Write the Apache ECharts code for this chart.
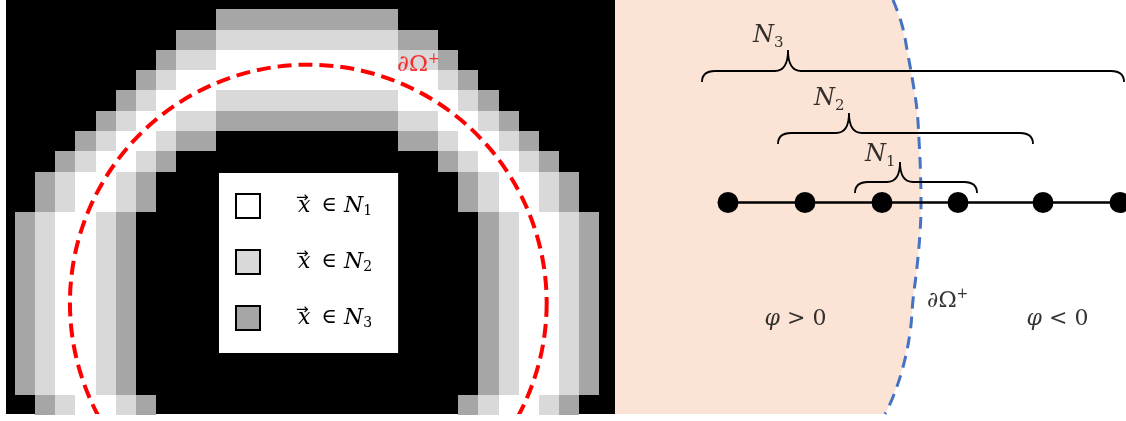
<!DOCTYPE html>
<html><head><meta charset="utf-8">
<script src="https://cdn.jsdelivr.net/npm/echarts@6/dist/echarts.min.js"></script>
<style>html,body{margin:0;padding:0;background:#fff}#c{width:1126px;height:421px}</style>
</head><body><div id="c"></div>
<script>
// ---------- Left panel: pixel classes per row (columns -1 .. 29) ----------
// '.' = outside, '1' = N1 (white), '2' = N2 (light gray), '3' = N3 (dark gray)
const firstCol = -1;
const pixelRows = [
  "...........333333333...........",
  ".........3322222222233.........",
  "........322111111111223........",
  ".......3211111111111112 3.......",
  "......32111222222222111 23......",
  ".....3211223333333332211 23.....",
  "....3211233.........3321123....",
  "...32112 3.............32112 3...",
  "..3211 23...............3211 23..",
  "..3211 23...............3211 23..",
  ".3211 23.................3211 23.",
  ".3211 23.................3211 23.",
  ".3211 23.................3211 23.",
  ".3211 23.................3211 23.",
  ".3211 23.................3211 23.",
  ".3211 23.................3211 23.",
  ".3211 23.................3211 23.",
  ".3211 23.................3211 23.",
  ".3211 23.................3211 23.",
  "..3211 23...............3211 23.."
].map(s => s.replace(/ /g, ''));
const classNames = ['N1', 'N2', 'N3'];
const classColors = ['#ffffff', '#d9d9d9', '#a6a6a6'];
// boundary circle: centre x, centre y, radius (cell units)
const boundaryCircle = [14.556, 14.468, 11.83];
const boundaryLabel = ['\u2202\u03A9', '+'];
const boundaryLabelPos = [18.96, 2.75];

// ---------- Right panel (diagram units) ----------
const nodeX = [728, 805, 882, 958, 1043, 1120];
const nodeY = 202.5;
const braceLeft  = [855, 778, 702];
const braceTip   = [900, 849, 788];
const braceRight = [977, 1033, 1124];
const braceTipY  = [162, 113, 50];
const braceEndY  = [193, 144, 82];
const braceBarY  = [182, 133, 71];
const braceNames = ['1', '2', '3'];
const braceLabelX = [865, 814, 753];
const braceLabelY = [155, 99, 36];
const interfaceX = [893, 902, 908, 913, 917, 919, 920.5, 921, 920, 917, 913, 910, 903, 893, 885];
const interfaceY = [0, 25, 55, 83, 110, 140, 173, 205, 233, 267, 300, 333, 367, 397, 414];
const regionLabels = ['{p|\u03C6} > 0', '\u2202\u03A9{sup|+}', '{p|\u03C6} < 0'];
const regionLabelX = [795.5, 927, 1057.5];
const regionLabelY = [319.5, 301, 319.5];
const regionAlign = ['center', 'left', 'center'];

// ---------- build ----------
const FONT = "'DejaVu Serif', serif";
function classCells(cls) {
  const out = [];
  pixelRows.forEach((row, r) => {
    for (let i = 0; i < row.length; i++) if (row[i] === cls) out.push([firstCol + i, r]);
  });
  return out;
}
function renderCell(params, api) {
  const p0 = api.coord([api.value(0), api.value(1)]);
  const p1 = api.coord([api.value(0) + 1, api.value(1) + 1]);
  const x0 = Math.round(p0[0]), y0 = Math.round(p0[1]);
  return { type: 'rect', shape: { x: x0, y: y0, width: Math.round(p1[0]) - x0, height: Math.round(p1[1]) - y0 },
           style: { fill: api.visual('color') } };
}
const cellSeries = classNames.map((n, k) => ({
  name: n, type: 'custom', xAxisIndex: 0, yAxisIndex: 0, renderItem: renderCell,
  itemStyle: { color: classColors[k] }, data: classCells(String(k + 1)), z: 1, silent: true
}));

// small vector arrows above the legend "x"
const legendRowCenters = [205.5, 261.5, 317.5];
const arrowGraphics = legendRowCenters.map(cy => ({
  type: 'text', left: 296, top: cy - 14.5, z: 100, silent: true,
  style: { text: '\u2192', fontFamily: "'DejaVu Sans'", fontSize: 15, fill: '#000' }
}));

const chart = echarts.init(document.getElementById('c'), null, { renderer: 'canvas' });
chart.setOption({
  animation: false,
  backgroundColor: '#fff',
  grid: [
    { left: 6, top: 0, width: 609, height: 414, show: true, backgroundColor: '#000', borderWidth: 0 },
    { left: 615, top: 0, width: 511, height: 421, show: false }
  ],
  xAxis: [
    { type: 'value', gridIndex: 0, min: -0.4467, max: 29.777, show: false },
    { type: 'value', gridIndex: 1, min: 615, max: 1126, show: false }
  ],
  yAxis: [
    { type: 'value', gridIndex: 0, min: -0.458, max: 19.936, inverse: true, show: false },
    { type: 'value', gridIndex: 1, min: 0, max: 421, inverse: true, show: false }
  ],
  graphic: arrowGraphics,
  legend: {
    data: classNames, orient: 'vertical', left: 219, top: 173,
    backgroundColor: '#fff', padding: [20, 26, 22, 16],
    itemWidth: 24, itemHeight: 24, itemGap: 30, icon: 'rect', selectedMode: false,
    itemStyle: { borderColor: '#000', borderWidth: 2 },
    formatter: name => '{x|x}{o|\u2208}{n|N}{s|' + name.slice(1) + '}',
    textStyle: {
      padding: [0, 0, 0, 33], color: '#000', fontFamily: FONT, height: 24, lineHeight: 24,
      rich: {
        x: { fontFamily: FONT, fontStyle: 'italic', fontSize: 22, lineHeight: 24, color: '#000' },
        o: { fontFamily: FONT, fontSize: 21, lineHeight: 24, color: '#000', padding: [0, 7, 0, 11] },
        n: { fontFamily: FONT, fontStyle: 'italic', fontSize: 22, lineHeight: 24, color: '#000' },
        s: { fontFamily: FONT, fontSize: 14, lineHeight: 24, verticalAlign: 'bottom', color: '#000' }
      }
    }
  },
  series: cellSeries.concat([
    { type: 'custom', xAxisIndex: 0, yAxisIndex: 0, clip: true, z: 3, silent: true,
      data: [boundaryCircle],
      renderItem: (params, api) => {
        const c = api.coord([api.value(0), api.value(1)]);
        const r = api.size([api.value(2), 0])[0];
        return { type: 'circle', shape: { cx: c[0], cy: c[1], r: r },
                 style: { fill: 'none', stroke: '#ff0000', lineWidth: 4, lineDash: [14, 7] } };
      } },
    { type: 'scatter', xAxisIndex: 0, yAxisIndex: 0, symbolSize: 0, z: 4, silent: true,
      data: [{ value: boundaryLabelPos }],
      label: { show: true, position: 'inside', align: 'left', verticalAlign: 'middle',
        formatter: '{b|' + boundaryLabel[0] + '}{sup|' + boundaryLabel[1] + '}',
        rich: { b: { fontFamily: FONT, fontSize: 23, color: '#ff0000', lineHeight: 26 },
                sup: { fontFamily: FONT, fontSize: 14, color: '#ff0000', verticalAlign: 'top', lineHeight: 26 } } } },
    // peach region (phi > 0)
    { type: 'custom', xAxisIndex: 1, yAxisIndex: 1, z: 1, silent: true,
      data: [[interfaceX[0], interfaceY[0]]],
      renderItem: (params, api) => {
        const pts = [api.coord([615, 0])];
        interfaceX.forEach((x, i) => pts.push(api.coord([x, interfaceY[i]])));
        pts.push(api.coord([615, interfaceY[interfaceY.length - 1]]));
        return { type: 'polygon', shape: { points: pts, smooth: 0 },
                 style: { fill: '#fbe4d6' } };
      } },
    // interface curve
    { type: 'line', xAxisIndex: 1, yAxisIndex: 1, z: 3, silent: true, showSymbol: false, smooth: 0.4,
      data: interfaceX.map((x, i) => [x, interfaceY[i]]),
      lineStyle: { color: '#4472c4', width: 3, type: [12, 8] } },
    // grid nodes
    { type: 'line', xAxisIndex: 1, yAxisIndex: 1, z: 4, silent: true, symbol: 'circle', symbolSize: 21,
      data: nodeX.map(x => [x, nodeY]),
      itemStyle: { color: '#000' }, lineStyle: { color: '#000', width: 2.5 } },
    // braces
    { type: 'custom', xAxisIndex: 1, yAxisIndex: 1, z: 4, silent: true,
      data: braceLeft.map((x, i) => [x, braceTip[i], braceRight[i], braceTipY[i], braceEndY[i], braceBarY[i]]),
      renderItem: (params, api) => {
        const L = api.coord([api.value(0), api.value(4)]);
        const T = api.coord([api.value(1), api.value(3)]);
        const R = api.coord([api.value(2), api.value(4)]);
        const yb = api.coord([api.value(1), api.value(5)])[1];
        const k = 13;
        const d = 'M' + L[0] + ' ' + L[1] +
          ' Q' + L[0] + ' ' + yb + ' ' + (L[0] + k) + ' ' + yb +
          ' L' + (T[0] - k) + ' ' + yb +
          ' Q' + T[0] + ' ' + yb + ' ' + T[0] + ' ' + T[1] +
          ' Q' + T[0] + ' ' + yb + ' ' + (T[0] + k) + ' ' + yb +
          ' L' + (R[0] - k) + ' ' + yb +
          ' Q' + R[0] + ' ' + yb + ' ' + R[0] + ' ' + R[1];
        return { type: 'path', shape: { pathData: d },
                 style: { fill: 'none', stroke: '#000', lineWidth: 1.8 } };
      } },
    // brace labels
    { type: 'scatter', xAxisIndex: 1, yAxisIndex: 1, symbolSize: 0, z: 5, silent: true,
      data: braceNames.map((t, i) => ({ value: [braceLabelX[i], braceLabelY[i]], label: { formatter: '{n|N}{s|' + t + '}' } })),
      label: { show: true, position: 'inside', align: 'left', verticalAlign: 'middle',
        rich: { n: { fontFamily: FONT, fontStyle: 'italic', fontSize: 24, lineHeight: 30, color: '#000' },
                s: { fontFamily: FONT, fontSize: 15, lineHeight: 30, verticalAlign: 'bottom', color: '#000' } } } },
    // region labels
    { type: 'scatter', xAxisIndex: 1, yAxisIndex: 1, symbolSize: 0, z: 5, silent: true,
      data: regionLabels.map((t, i) => ({ value: [regionLabelX[i], regionLabelY[i]], label: { formatter: t, align: regionAlign[i] } })),
      label: { show: true, position: 'inside', verticalAlign: 'middle', color: '#000',
        fontFamily: FONT, fontSize: 22, lineHeight: 28,
        rich: { p: { fontFamily: FONT, fontStyle: 'italic', fontSize: 22, lineHeight: 28, color: '#000' },
                sup: { fontFamily: FONT, fontSize: 14, verticalAlign: 'top', lineHeight: 28, color: '#000' } } } }
  ])
});
</script></body></html>
